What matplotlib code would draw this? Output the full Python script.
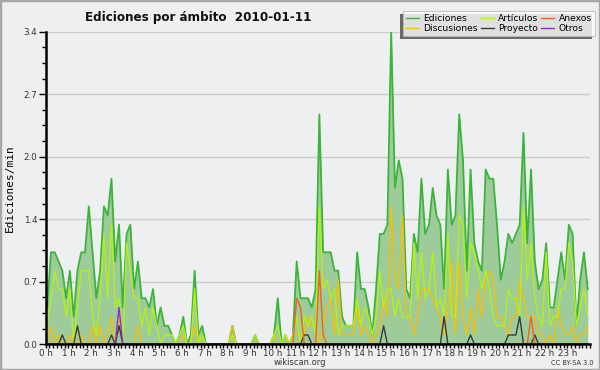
import numpy as np
import matplotlib
matplotlib.use("Agg")
import matplotlib.pyplot as plt
from matplotlib.patches import Rectangle
from matplotlib.ticker import MultipleLocator, FixedLocator

hours = list(range(24))
hour_labels = [f"{h} h" for h in hours]
ytick_vals = [0.0, 0.68, 1.36, 2.04, 2.72, 3.4]
ytick_labels = ["0.0", "0.7", "1.4", "2.0", "2.7", "3.4"]

ediciones = [
    0.4, 1.0, 1.0, 0.9, 0.8, 0.5,
    0.8, 0.3, 0.8, 1.0, 1.0, 1.5,
    1.0, 0.5, 0.8, 1.5, 1.4, 1.8,
    0.9, 1.3, 0.4, 1.2, 1.3, 0.6,
    0.9, 0.5, 0.5, 0.4, 0.6, 0.2,
    0.4, 0.2, 0.2, 0.1, 0.0, 0.1,
    0.3, 0.0, 0.1, 0.8, 0.1, 0.2,
    0.0, 0.0, 0.0, 0.0, 0.0, 0.0,
    0.0, 0.2, 0.0, 0.0, 0.0, 0.0,
    0.0, 0.1, 0.0, 0.0, 0.0, 0.0,
    0.1, 0.5, 0.0, 0.1, 0.0, 0.1,
    0.9, 0.5, 0.5, 0.5, 0.4, 0.6,
    2.5, 1.0, 1.0, 1.0, 0.8, 0.8,
    0.3, 0.2, 0.2, 0.2, 1.0, 0.6,
    0.6, 0.4, 0.1, 0.6, 1.2, 1.2,
    1.3, 3.4, 1.7, 2.0, 1.8, 0.6,
    0.5, 1.2, 1.0, 1.8, 1.2, 1.3,
    1.7, 1.4, 1.3, 0.6, 1.9, 1.3,
    1.4, 2.5, 2.0, 0.8, 1.9, 1.1,
    0.9, 0.8, 1.9, 1.8, 1.8, 1.3,
    0.7, 0.9, 1.2, 1.1, 1.2, 1.3,
    2.3, 1.1, 1.9, 0.9, 0.6, 0.7,
    1.1, 0.4, 0.4, 0.7, 1.0, 0.7,
    1.3, 1.2, 0.2, 0.7, 1.0, 0.6,
]

articulos = [
    0.2, 0.5, 0.8, 0.6, 0.6, 0.3,
    0.6, 0.0, 0.4, 0.8, 0.8, 0.8,
    0.3, 0.1, 0.5, 1.2, 0.5, 1.3,
    0.4, 0.5, 0.0, 1.1, 0.8, 0.5,
    0.5, 0.2, 0.4, 0.1, 0.4, 0.2,
    0.0, 0.1, 0.1, 0.1, 0.0, 0.1,
    0.2, 0.0, 0.0, 0.6, 0.0, 0.1,
    0.0, 0.0, 0.0, 0.0, 0.0, 0.0,
    0.0, 0.1, 0.0, 0.0, 0.0, 0.0,
    0.0, 0.1, 0.0, 0.0, 0.0, 0.0,
    0.1, 0.2, 0.0, 0.1, 0.0, 0.1,
    0.3, 0.0, 0.3, 0.2, 0.3, 0.1,
    1.5, 0.6, 0.7, 0.5, 0.6, 0.1,
    0.2, 0.2, 0.2, 0.2, 0.5, 0.2,
    0.4, 0.3, 0.1, 0.3, 0.8, 0.4,
    0.6, 0.6, 0.3, 0.5, 0.3, 0.3,
    0.3, 1.1, 0.5, 1.0, 0.5, 0.6,
    1.0, 0.4, 0.5, 0.3, 1.2, 0.3,
    0.3, 1.4, 1.3, 0.5, 1.1, 1.0,
    0.8, 0.6, 0.8, 0.6, 0.3, 0.2,
    0.2, 0.2, 0.6, 0.5, 0.5, 0.3,
    1.5, 0.7, 1.1, 0.5, 0.3, 0.2,
    1.0, 0.2, 0.3, 0.3, 0.6, 0.6,
    1.1, 0.9, 0.2, 0.4, 0.6, 0.3,
]

discusiones = [
    0.0, 0.2, 0.0, 0.1, 0.0, 0.0,
    0.1, 0.0, 0.0, 0.1, 0.0, 0.0,
    0.2, 0.0, 0.2, 0.0, 0.1, 0.3,
    0.0, 0.3, 0.0, 0.0, 0.0, 0.0,
    0.2, 0.0, 0.0, 0.0, 0.0, 0.0,
    0.0, 0.0, 0.0, 0.0, 0.0, 0.0,
    0.1, 0.0, 0.0, 0.2, 0.0, 0.1,
    0.0, 0.0, 0.0, 0.0, 0.0, 0.0,
    0.0, 0.2, 0.0, 0.0, 0.0, 0.0,
    0.0, 0.0, 0.0, 0.0, 0.0, 0.0,
    0.1, 0.0, 0.0, 0.1, 0.0, 0.1,
    0.1, 0.1, 0.1, 0.3, 0.2, 0.2,
    0.0, 0.2, 0.4, 0.5, 0.1, 0.7,
    0.1, 0.1, 0.1, 0.1, 0.4, 0.1,
    0.2, 0.1, 0.0, 0.1, 0.2, 0.5,
    0.3, 1.5, 0.7, 0.6, 1.4, 0.3,
    0.3, 0.1, 0.3, 0.6, 0.6, 0.6,
    0.5, 0.4, 0.3, 0.1, 0.4, 0.9,
    0.1, 0.9, 0.3, 0.1, 0.4, 0.1,
    0.6, 0.3, 0.7, 0.8, 0.7, 0.3,
    0.3, 0.2, 0.1, 0.3, 0.3, 0.7,
    0.5, 0.3, 0.3, 0.3, 0.1, 0.1,
    0.0, 0.1, 0.0, 0.4, 0.2, 0.1,
    0.1, 0.2, 0.0, 0.1, 0.1, 0.2,
]

proyecto = [0.0] * 144
for k, v in [(4, 0.1), (8, 0.2), (17, 0.1), (19, 0.2), (68, 0.1), (69, 0.1),
             (89, 0.2), (105, 0.3), (112, 0.1), (122, 0.1), (123, 0.1),
             (124, 0.1), (125, 0.3), (129, 0.1)]:
    proyecto[k] = v

anexos = [0.0] * 144
for k, v in [(66, 0.5), (67, 0.4), (72, 0.8), (73, 0.1), (128, 0.3)]:
    anexos[k] = v

otros = [0.0] * 144
otros[19] = 0.4

t = (np.arange(144) + 0.4) / 6.0

W, H = 600, 370
fig = plt.figure(figsize=(W / 100, H / 100), dpi=100)
fig.patch.set_facecolor("#efefef")
fig.add_artist(Rectangle((0, 0), 1, 1, transform=fig.transFigure, fill=False,
                         edgecolor="#a8a8a8", linewidth=2.5, zorder=10))

ax = fig.add_axes([45.7 / W, 1 - 344.2 / H, (590 - 45.7) / W, (344.2 - 31.7) / H])
ax.set_facecolor("#eeeff1")
ax.set_xlim(0, 24)
ax.set_ylim(0, 3.4)

ax.fill_between(t, ediciones, 0, color="#9dcb99", zorder=2, linewidth=0)
l_ed, = ax.plot(t, ediciones, color="#3cb43c", lw=1.3, zorder=3, label="Ediciones")
l_di, = ax.plot(t, discusiones, color="#f2c010", lw=1.0, zorder=4, label="Discusiones")
l_ar, = ax.plot(t, articulos, color="#b4f01c", lw=1.0, zorder=4, label="Artículos")
l_pr, = ax.plot(t, proyecto, color="#3a3a3a", lw=1.0, zorder=5, label="Proyecto")
l_an, = ax.plot(t, anexos, color="#f5621e", lw=1.0, zorder=5, label="Anexos")
l_ot, = ax.plot(t, otros, color="#8a2be2", lw=1.0, zorder=6, label="Otros")

ax.yaxis.set_major_locator(FixedLocator(ytick_vals))
ax.set_yticklabels(ytick_labels)
ax.yaxis.set_minor_locator(MultipleLocator(0.17))
ax.xaxis.set_major_locator(FixedLocator(hours))
ax.set_xticklabels(hour_labels)
ax.xaxis.set_minor_locator(MultipleLocator(1 / 6))
ax.grid(axis="y", which="major", color="#cccccc", lw=1, zorder=1)
ax.set_axisbelow(True)

for s in ["top", "right"]:
    ax.spines[s].set_visible(False)
for s in ["left", "bottom"]:
    ax.spines[s].set_linewidth(1.8)
    ax.spines[s].set_color("black")
    ax.spines[s].set_zorder(7)

ax.tick_params(axis="x", which="both", direction="out", length=3, width=1,
               labelsize=6.3, pad=0.5, colors="black", labelcolor="#333333")
ax.tick_params(axis="y", which="major", direction="out", length=5, width=1,
               labelsize=6.3, pad=1, labelcolor="#333333")
ax.tick_params(axis="y", which="minor", direction="out", length=3, width=1)

ax.set_ylabel("Ediciones/min", fontsize=8, family="DejaVu Sans Mono", labelpad=6)

fig.text(85 / W, 1 - 17 / H, "Ediciones por ámbito  2010-01-11", fontsize=9.5,
         fontweight="bold", fontstretch="condensed", ha="left", va="center",
         color="#111111")
fig.text(300 / W, 1 - 362.5 / H, "wikiscan.org", fontsize=6, ha="center",
         va="center", color="#333333")
fig.text(594 / W, 1 - 363 / H, "CC BY-SA 3.0", fontsize=4.8, ha="right",
         va="center", color="#333333")

handles = [l_ed, l_di, l_ar, l_pr, l_an, l_ot]
leg = fig.legend(handles=handles, labels=[h.get_label() for h in handles],
                 ncol=3, loc="upper right", bbox_to_anchor=(595 / W, 1 - 11 / H),
                 fontsize=6.6, frameon=True, fancybox=False, handlelength=1.4,
                 handletextpad=0.5, columnspacing=0.3, labelspacing=0.1,
                 borderpad=0.35, borderaxespad=0)
leg.get_frame().set_facecolor("white")
leg.get_frame().set_edgecolor("#bbbbbb")
leg.get_frame().set_linewidth(0.8)
for line in leg.get_lines():
    line.set_linewidth(1.0)
leg.set_zorder(20)

fig.canvas.draw()
bb = leg.get_window_extent()
shadow = Rectangle((bb.x0 - 3, bb.y0 - 3), bb.width, bb.height, transform=None,
                   facecolor="#6a6a6a", edgecolor="none", zorder=19)
fig.add_artist(shadow)

fig.savefig("out.png", dpi=100, facecolor=fig.get_facecolor())
